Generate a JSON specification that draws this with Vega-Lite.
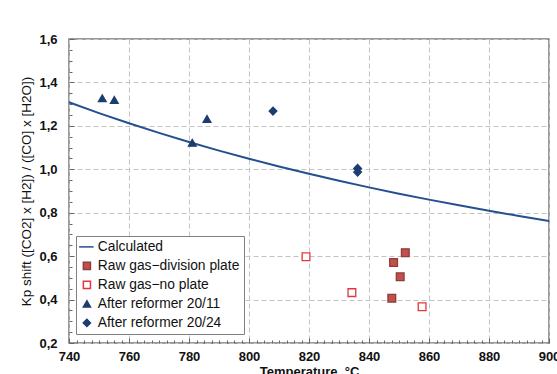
{
  "$schema": "https://vega.github.io/schema/vega-lite/v6.json",
  "width": 480,
  "height": 304,
  "autosize": {"type": "none"},
  "padding": {"left": 69, "top": 39, "right": 8, "bottom": 31},
  "background": "white",
  "config": {
    "font": "Liberation Sans",
    "view": {"stroke": "#7a7a7a", "strokeWidth": 1.5},
    "axis": {"labelFont": "Liberation Sans", "titleFont": "Liberation Sans", "labelColor": "#111", "titleColor": "#111"}
  },
  "datasets": {
    "d": [
      {"series": "Calculated", "t": 740, "kp": 1.3085},
      {"series": "Calculated", "t": 750, "kp": 1.2589},
      {"series": "Calculated", "t": 760, "kp": 1.2119},
      {"series": "Calculated", "t": 770, "kp": 1.1677},
      {"series": "Calculated", "t": 780, "kp": 1.1257},
      {"series": "Calculated", "t": 790, "kp": 1.0861},
      {"series": "Calculated", "t": 800, "kp": 1.0485},
      {"series": "Calculated", "t": 810, "kp": 1.0129},
      {"series": "Calculated", "t": 820, "kp": 0.9792},
      {"series": "Calculated", "t": 830, "kp": 0.9471},
      {"series": "Calculated", "t": 840, "kp": 0.9167},
      {"series": "Calculated", "t": 850, "kp": 0.8877},
      {"series": "Calculated", "t": 860, "kp": 0.8602},
      {"series": "Calculated", "t": 870, "kp": 0.8339},
      {"series": "Calculated", "t": 880, "kp": 0.8089},
      {"series": "Calculated", "t": 890, "kp": 0.7851},
      {"series": "Calculated", "t": 900, "kp": 0.7623},
      {"series": "Raw gas−division plate", "t": 848.2, "kp": 0.571},
      {"series": "Raw gas−division plate", "t": 852.1, "kp": 0.616},
      {"series": "Raw gas−division plate", "t": 850.4, "kp": 0.505},
      {"series": "Raw gas−division plate", "t": 847.6, "kp": 0.406},
      {"series": "Raw gas−no plate", "t": 819, "kp": 0.597},
      {"series": "Raw gas−no plate", "t": 834.3, "kp": 0.432},
      {"series": "Raw gas−no plate", "t": 857.7, "kp": 0.367},
      {"series": "After reformer 20/11", "t": 751.1, "kp": 1.327},
      {"series": "After reformer 20/11", "t": 755.1, "kp": 1.319},
      {"series": "After reformer 20/11", "t": 781.1, "kp": 1.122},
      {"series": "After reformer 20/11", "t": 786, "kp": 1.232},
      {"series": "After reformer 20/24", "t": 808, "kp": 1.268},
      {"series": "After reformer 20/24", "t": 836.2, "kp": 1.004},
      {"series": "After reformer 20/24", "t": 836.2, "kp": 0.987}
    ]
  },
  "data": {"name": "d"},
  "resolve": {"axis": {"x": "independent", "y": "independent"}},
  "layer": [
    {
      "mark": {"type": "point", "opacity": 0},
      "encoding": {
        "x": {"field": "t", "type": "quantitative", "scale": {"domain": [740, 900], "nice": false, "zero": false},
          "axis": {"orient": "bottom", "values": [742.5,745,747.5,750,752.5,755,757.5,762.5,765,767.5,770,772.5,775,777.5,782.5,785,787.5,790,792.5,795,797.5,802.5,805,807.5,810,812.5,815,817.5,822.5,825,827.5,830,832.5,835,837.5,842.5,845,847.5,850,852.5,855,857.5,862.5,865,867.5,870,872.5,875,877.5,882.5,885,887.5,890,892.5,895,897.5],
            "labels": false, "grid": false, "domain": false, "title": null, "tickSize": -3, "tickColor": "#666", "tickWidth": 1}},
        "y": {"field": "kp", "type": "quantitative", "scale": {"domain": [0.2, 1.6], "nice": false, "zero": false},
          "axis": {"orient": "left", "values": [0.25,0.3,0.35,0.45,0.5,0.55,0.65,0.7,0.75,0.85,0.9,0.95,1.05,1.1,1.15,1.25,1.3,1.35,1.45,1.5,1.55],
            "labels": false, "grid": false, "domain": false, "title": null, "tickSize": -3, "tickColor": "#666", "tickWidth": 1}}
      }
    },
    {
      "transform": [{"filter": "datum.series === 'Calculated'"}],
      "mark": {"type": "line", "strokeWidth": 2, "color": "#24508f"},
      "encoding": {
        "x": {"field": "t", "type": "quantitative", "scale": {"domain": [740, 900], "nice": false, "zero": false},
          "axis": {"orient": "bottom", "values": [740,760,780,800,820,840,860,880,900], "grid": true, "gridDash": [5,3], "gridColor": "#c4c4c4", "gridWidth": 1,
            "domain": false, "tickSize": -5, "tickColor": "#666", "labelPadding": 12, "labelFontSize": 13, "labelFontWeight": "bold", "labelFlush": false,
            "title": "Temperature, °C", "titleFontSize": 13, "titleFontWeight": "bold", "titlePadding": 2}},
        "y": {"field": "kp", "type": "quantitative", "scale": {"domain": [0.2, 1.6], "nice": false, "zero": false},
          "axis": {"orient": "left", "values": [0.2,0.4,0.6,0.8,1.0,1.2,1.4,1.6], "grid": true, "gridDash": [5,3], "gridColor": "#c4c4c4", "gridWidth": 1,
            "domain": false, "tickSize": -5, "tickColor": "#666", "labelPadding": 17, "labelFontSize": 13, "labelFontWeight": "bold", "labelFlush": false,
            "labelExpr": "replace(format(datum.value, '.1f'), '.', ',')",
            "title": "Kp shift  ([CO2] x [H2]) / ([CO] x [H2O])", "titleFontSize": 13.5, "titleFontWeight": "normal", "titlePadding": 5}}
      }
    },
    {
      "transform": [{"filter": "datum.series !== 'Calculated'"}],
      "mark": {"type": "point", "size": 60, "strokeWidth": 1.3, "opacity": 1},
      "encoding": {
        "x": {"field": "t", "type": "quantitative", "axis": null},
        "y": {"field": "kp", "type": "quantitative", "axis": null},
        "stroke": {"field": "series", "type": "nominal",
          "scale": {"domain": ["Calculated","Raw gas−division plate","Raw gas−no plate","After reformer 20/11","After reformer 20/24"],
            "range": ["#24508f","#8e3d3b","#e0383a","#1d3d70","#1d3d70"]},
          "legend": {"title": null, "orient": "none", "legendX": 7, "legendY": 197, "strokeColor": "#808080", "fillColor": "white", "padding": 4,
            "labelFontSize": 13.8, "labelFont": "Liberation Sans", "labelColor": "#111", "rowPadding": 4, "symbolStrokeWidth": 1.5, "symbolSize": 50, "labelOffset": 4, "labelLimit": 300}},
        "fill": {"field": "series", "type": "nominal",
          "scale": {"domain": ["Calculated","Raw gas−division plate","Raw gas−no plate","After reformer 20/11","After reformer 20/24"],
            "range": ["#24508f","#c0504d","white","#1d3d70","#1d3d70"]},
          "legend": {"title": null}},
        "shape": {"field": "series", "type": "nominal",
          "scale": {"domain": ["Calculated","Raw gas−division plate","Raw gas−no plate","After reformer 20/11","After reformer 20/24"],
            "range": ["M-2.2,0H1.9","square","square","triangle-up","diamond"]},
          "legend": {"title": null}}
      }
    }
  ]
}
